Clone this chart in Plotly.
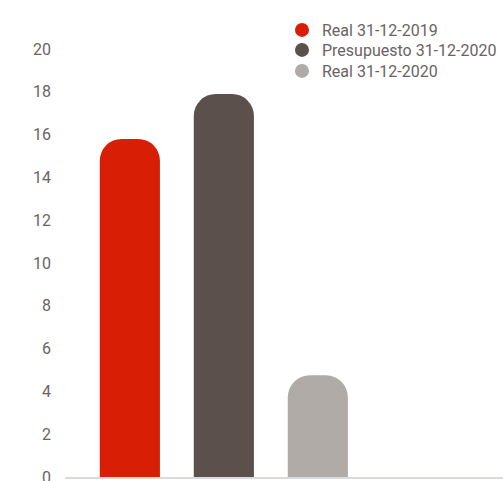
import plotly.graph_objects as go

series_names = ["Real 31-12-2019", "Presupuesto 31-12-2020", "Real 31-12-2020"]
series_values = [15.8, 17.9, 4.75]
series_colors = ["#d81e05", "#5c504d", "#b0aba6"]
x_positions = [0, 1, 2]
y_tick_values = list(range(0, 21, 2))

legend_ids = ["legend", "legend2", "legend3"]
legend_ys = [1.0841, 1.0374, 0.9883]

fig = go.Figure()
for name, val, col, xp in zip(series_names, series_values, series_colors, x_positions):
    fig.add_trace(go.Bar(
        x=[xp], y=[val], name=name, width=0.64,
        marker=dict(color=col, cornerradius=22, line=dict(width=0)),
        showlegend=False, hoverinfo="y",
    ))
for name, col, lid in zip(series_names, series_colors, legend_ids):
    fig.add_trace(go.Scatter(
        x=[None], y=[None], mode="markers", name=name, legend=lid,
        marker=dict(symbol="circle", size=14, color=col),
    ))

legend_style = dict(x=0.4954, xanchor="left", yanchor="top",
                    bgcolor="rgba(0,0,0,0)", font=dict(size=16, color="#6b6363"),
                    itemwidth=30)

fig.update_layout(
    width=503, height=481,
    margin=dict(l=65, r=0, t=49, b=4, autoexpand=False),
    paper_bgcolor="white", plot_bgcolor="white",
    barmode="overlay",
    font=dict(family="Roboto", size=16, color="#6b6363"),
    xaxis=dict(range=[-0.69, 3.97], showticklabels=False, showgrid=False,
               zeroline=False, showline=True, linecolor="#dcd9d6", linewidth=1.5,
               ticks=""),
    yaxis=dict(range=[0, 20], tickvals=y_tick_values, showgrid=False,
               zeroline=False, showline=False, ticks="", ticklabelstandoff=13,
               ticklabeloverflow="allow",
               tickfont=dict(size=16, color="#6b6363")),
    legend=dict(y=legend_ys[0], **legend_style),
    legend2=dict(y=legend_ys[1], **legend_style),
    legend3=dict(y=legend_ys[2], **legend_style),
)

fig.write_html(
    "out.html",
    config={"displayModeBar": False},
    post_script="document.body.style.margin='0';document.body.style.overflow='hidden';",
)
